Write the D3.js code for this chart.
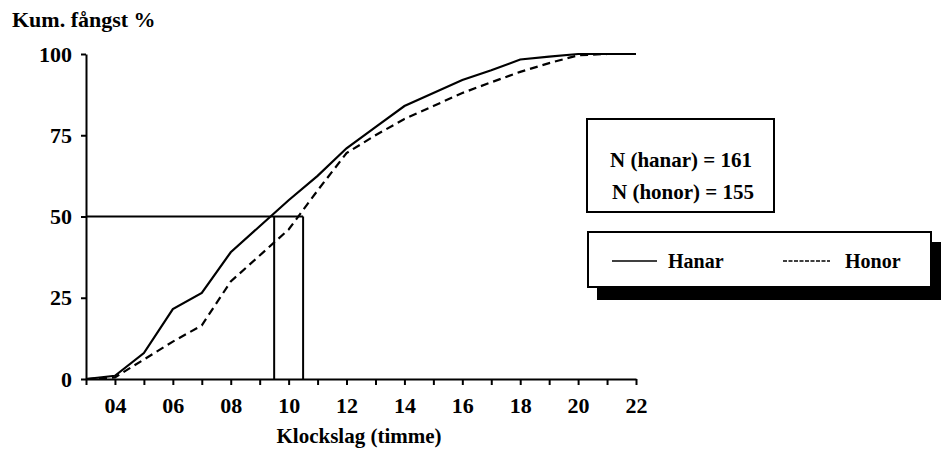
<!DOCTYPE html>
<html>
<head>
<meta charset="utf-8">
<script src="https://cdn.jsdelivr.net/npm/d3@7"></script>
</head>
<body style="margin:0">
<script>
// data
const hours = [3, 4, 5, 6, 7, 8, 9, 10, 11, 12, 13, 14, 15, 16, 17, 18, 19, 20, 21, 22];
const hanar = [0, 1, 8, 21.5, 26.5, 39, 47, 55, 62.5, 71, 77.5, 84, 88, 92, 95, 98.3, 99.2, 100, 100, 100];
const honor = [0, 0.5, 6, 11.5, 16.5, 30, 38, 46, 58, 69.5, 75, 80, 84, 88, 91.3, 94.5, 97.2, 99.6, 100, 100];
const yTicks = [0, 25, 50, 75, 100];
const xLabels = ["04", "06", "08", "10", "12", "14", "16", "18", "20", "22"];
const medianHanar = 9.5;
const medianHonor = 10.5;
const nHanar = 161;
const nHonor = 155;

var width = 941, height = 455;

var svg = d3.select("body").append("svg")
  .attr("width", width)
  .attr("height", height)
  .attr("font-family", "Liberation Serif")
  .attr("font-weight", "bold");

let x = d3.scaleLinear().domain([3, 22]).range([86, 636]);
let y = d3.scaleLinear().domain([0, 100]).range([379, 54]);

// y axis
let gy = svg.append("g")
  .attr("transform", "translate(" + x(3) + ",0)")
  .call(d3.axisLeft(y).tickValues(yTicks).tickSize(5).tickSizeOuter(0).tickPadding(9));
gy.attr("font-family", "Liberation Serif").attr("font-size", 22);

// x axis
let gx = svg.append("g")
  .attr("transform", "translate(0," + y(0) + ")")
  .call(d3.axisBottom(x).tickValues(hours).tickSize(6).tickSizeOuter(0).tickPadding(12)
    .tickFormat(d => xLabels.includes(d3.format("02d")(d)) ? d3.format("02d")(d) : ""));
gx.attr("font-family", "Liberation Serif").attr("font-size", 22);

svg.selectAll(".domain, .tick line").attr("stroke", "#000").attr("stroke-width", 2);

// plain labels, drawn from a small list
const labels = [
  {t: "Kum. fångst %", x: 12, y: 27, s: 22, a: "start"},
  {t: "Klockslag (timme)", x: 359, y: 443, s: 21, a: "middle"},
  {t: "N (hanar) = " + nHanar, x: 681, y: 167, s: 21, a: "middle"},
  {t: "N (honor) = " + nHonor, x: 683, y: 199, s: 21, a: "middle"},
  {t: "Hanar", x: 668, y: 268, s: 20, a: "start"},
  {t: "Honor", x: 845, y: 268, s: 20, a: "start"}
];

// 50% reference lines
svg.append("line")
  .attr("x1", x(3)).attr("x2", x(medianHonor))
  .attr("y1", y(50)).attr("y2", y(50))
  .attr("stroke", "#000").attr("stroke-width", 2);
[medianHanar, medianHonor].forEach(m => {
  svg.append("line")
    .attr("x1", x(m)).attr("x2", x(m))
    .attr("y1", y(0)).attr("y2", y(50))
    .attr("stroke", "#000").attr("stroke-width", 2);
});

let line = d3.line()
  .x((d, i) => x(hours[i]))
  .y(d => y(d));

svg.append("path")
  .datum(hanar)
  .attr("d", line)
  .attr("fill", "none")
  .attr("stroke", "#000")
  .attr("stroke-width", 2.2);

svg.append("path")
  .datum(honor)
  .attr("d", line)
  .attr("fill", "none")
  .attr("stroke", "#000")
  .attr("stroke-width", 2.2)
  .attr("stroke-dasharray", "8,5");

// N box
svg.append("rect")
  .attr("x", 587).attr("y", 119)
  .attr("width", 187).attr("height", 93)
  .attr("fill", "#fff").attr("stroke", "#000").attr("stroke-width", 2);

// legend with shadow
svg.append("rect")
  .attr("x", 597).attr("y", 242)
  .attr("width", 346).attr("height", 58)
  .attr("fill", "#000");
svg.append("rect")
  .attr("x", 588).attr("y", 232)
  .attr("width", 343).attr("height", 55)
  .attr("fill", "#fff").attr("stroke", "#000").attr("stroke-width", 2);

svg.append("line")
  .attr("x1", 612).attr("x2", 657)
  .attr("y1", 261).attr("y2", 261)
  .attr("stroke", "#000").attr("stroke-width", 1.5);
svg.append("line")
  .attr("x1", 783).attr("x2", 830)
  .attr("y1", 261).attr("y2", 261)
  .attr("stroke", "#000").attr("stroke-width", 1.5)
  .attr("stroke-dasharray", "4,1.5");

svg.selectAll("text.lbl")
  .data(labels)
  .join("text")
  .attr("class", "lbl")
  .attr("x", d => d.x).attr("y", d => d.y)
  .attr("text-anchor", d => d.a)
  .attr("font-size", d => d.s)
  .style("font-family", "'Liberation Serif'")
  .attr("font-weight", "bold")
  .text(d => d.t);

svg.selectAll(".tick text")
  .style("font-family", "'Liberation Serif'")
  .attr("font-weight", "bold")
  .attr("fill", "#000");
</script>
</body>
</html>
